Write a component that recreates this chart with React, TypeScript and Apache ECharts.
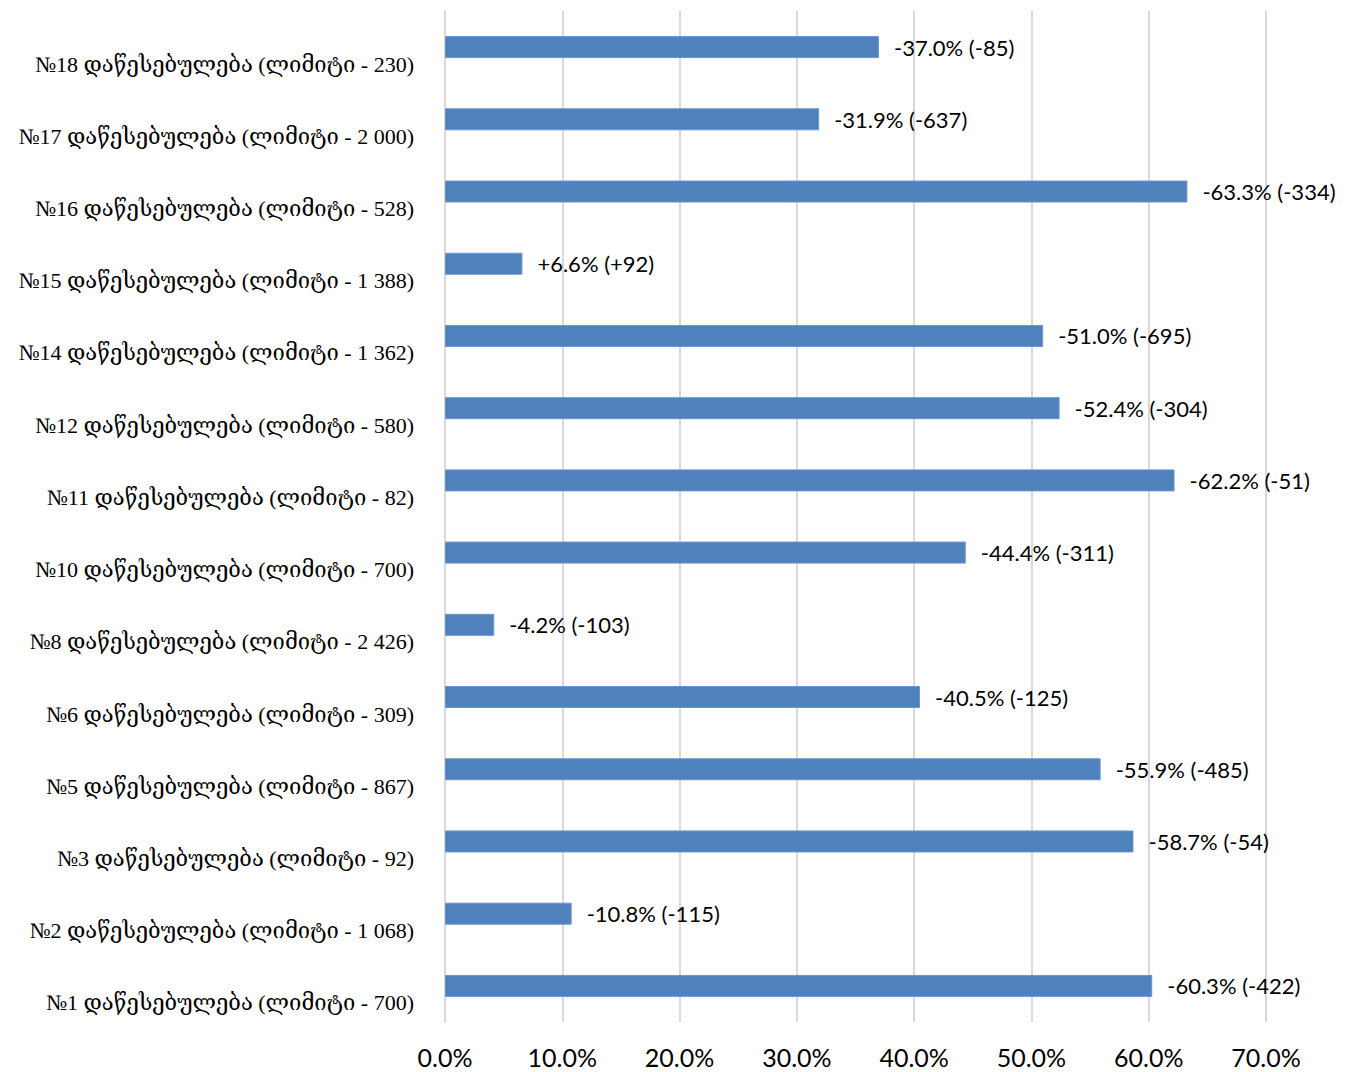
import React, { useEffect, useRef } from "react";
import * as echarts from "echarts";

const institutions = ["№1", "№2", "№3", "№5", "№6", "№8", "№10", "№11", "№12", "№14", "№15", "№16", "№17", "№18"];
const limits = ["700", "1 068", "92", "867", "309", "2 426", "700", "82", "580", "1 362", "1 388", "528", "2 000", "230"];
const changePct = [-60.3, -10.8, -58.7, -55.9, -40.5, -4.2, -44.4, -62.2, -52.4, -51.0, 6.6, -63.3, -31.9, -37.0];
const changeAbs = [-422, -115, -54, -485, -125, -103, -311, -51, -304, -695, 92, -334, -637, -85];
const xTicks = [0, 10, 20, 30, 40, 50, 60, 70];

const categories = institutions.map((n, i) => `${n} დაწესებულება (ლიმიტი - ${limits[i]})`);
const sign = (v: number) => (v > 0 ? "+" : "");

export default function App() {
  const ref = useRef<HTMLDivElement>(null);
  useEffect(() => {
    document.body.style.margin = "0";
    const chart = echarts.init(ref.current!, null, { renderer: "svg" });
    chart.setOption({
      animation: false,
      backgroundColor: "#ffffff",
      grid: { left: 445, right: 83, top: 11, bottom: 50, containLabel: false },
      xAxis: {
        type: "value",
        min: xTicks[0],
        max: xTicks[xTicks.length - 1],
        interval: 10,
        axisLine: { show: false },
        axisTick: { show: false },
        splitLine: { show: true, lineStyle: { color: "#d9d9d9", width: 2 } },
        axisLabel: {
          formatter: (v: number) => v.toFixed(1) + "%",
          fontFamily: "Lato, 'Noto Sans', sans-serif",
          fontSize: 25,
          color: "#000",
          margin: 22,
        },
      },
      yAxis: {
        type: "category",
        data: categories,
        axisLine: { show: true, lineStyle: { color: "#d9d9d9", width: 2 } },
        axisTick: { show: false },
        axisLabel: {
          fontFamily: "'Liberation Serif', 'DejaVu Serif', serif",
          fontSize: 22,
          color: "#000",
          margin: 31,
          lineHeight: 34,
          formatter: (v: string) => "\n" + v,
        },
      },
      series: [
        {
          type: "bar",
          data: changePct.map((v) => Math.abs(v)),
          barWidth: 22,
          itemStyle: { color: "#4f81bd", borderColor: "#6b95c9", borderWidth: 1 },
          label: {
            show: true,
            position: "right",
            distance: 15,
            fontFamily: "Lato, 'Noto Sans', sans-serif",
            fontSize: 22,
            color: "#000",
            formatter: (p: any) =>
              `${sign(changePct[p.dataIndex])}${changePct[p.dataIndex].toFixed(1)}% (${sign(changeAbs[p.dataIndex])}${changeAbs[p.dataIndex]})`,
          },
        },
      ],
    });
    return () => chart.dispose();
  }, []);
  return <div ref={ref} style={{ width: 1349, height: 1072 }} />;
}
